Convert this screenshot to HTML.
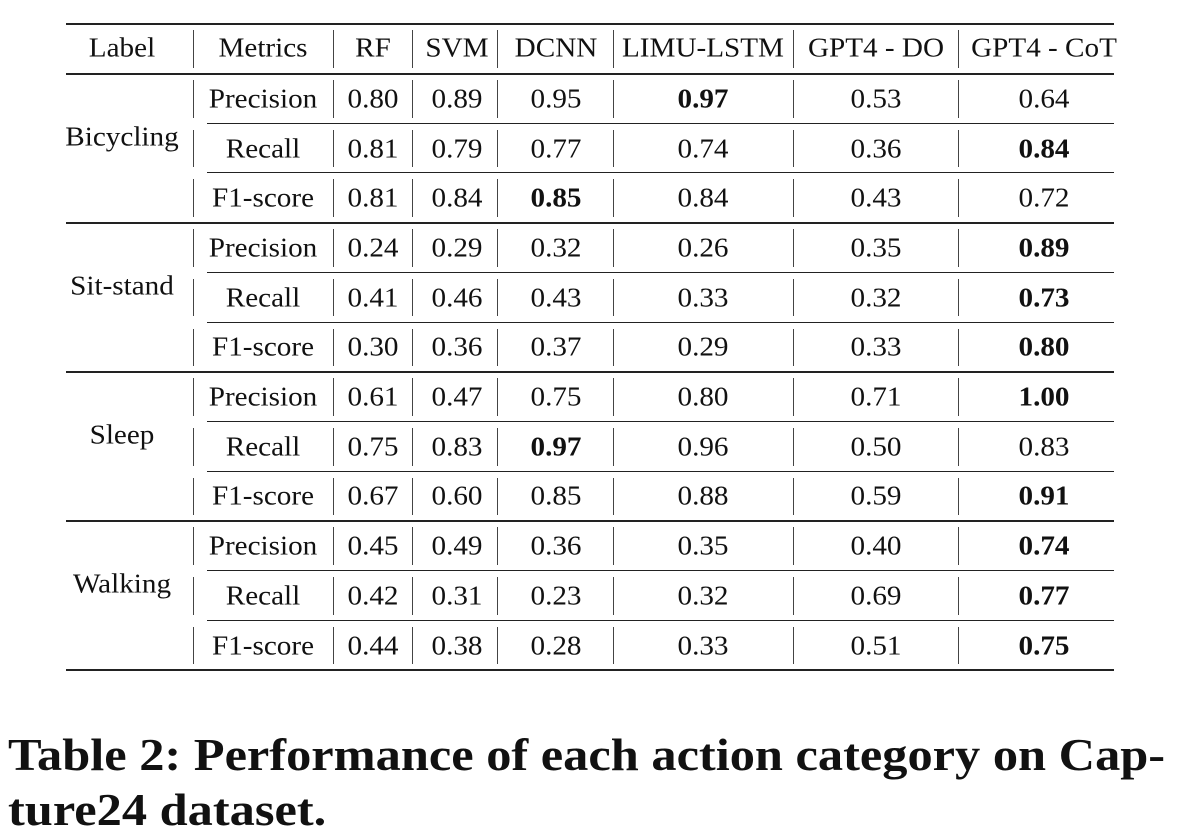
<!DOCTYPE html>
<html><head><meta charset="utf-8">
<style>
body{margin:0;background:#fff;width:1190px;height:838px;position:relative;overflow:hidden;font-family:"Liberation Serif",serif;color:#111}
.t{position:absolute;font-size:27px;transform:translate(-50%,-50%) scaleX(1.08);white-space:nowrap;line-height:1}
.b{font-weight:bold}
.h{position:absolute;background:#222}
.v{position:absolute;width:1.4px;background:#444}
.cap{position:absolute;left:8px;font-size:45px;font-weight:bold;white-space:nowrap;line-height:1;transform-origin:0 0;transform:scaleX(1.12)}
</style></head><body>
<div id="tbl"></div>
<div class="cap" style="top:733px">Table 2: Performance of each action category on Cap-</div>
<div class="cap" style="top:788px">ture24 dataset.</div>
<script>
const headers=["Label","Metrics","RF","SVM","DCNN","LIMU-LSTM","GPT4 - DO","GPT4 - CoT"];
const labels=["Bicycling","Sit-stand","Sleep","Walking"];
const metrics=["Precision","Recall","F1-score"];
const values=[
["0.80","0.89","0.95","0.97","0.53","0.64"],
["0.81","0.79","0.77","0.74","0.36","0.84"],
["0.81","0.84","0.85","0.84","0.43","0.72"],
["0.24","0.29","0.32","0.26","0.35","0.89"],
["0.41","0.46","0.43","0.33","0.32","0.73"],
["0.30","0.36","0.37","0.29","0.33","0.80"],
["0.61","0.47","0.75","0.80","0.71","1.00"],
["0.75","0.83","0.97","0.96","0.50","0.83"],
["0.67","0.60","0.85","0.88","0.59","0.91"],
["0.45","0.49","0.36","0.35","0.40","0.74"],
["0.42","0.31","0.23","0.32","0.69","0.77"],
["0.44","0.38","0.28","0.33","0.51","0.75"]];
const boldCells=[[0,3],[1,5],[2,2],[3,5],[4,5],[5,5],[6,5],[7,2],[8,5],[9,5],[10,5],[11,5]];
const colX=[122,263,373,457,556,703,876,1044];
const sepX=[193,333,412,497,613,793,958];
const root=document.getElementById('tbl');
const rowTop=74, rowH=49.7, headY=48;
function add(cls,style,txt,name){const d=document.createElement('div');d.className=cls;d.style.cssText=style;if(txt!==undefined)d.textContent=txt;


root.appendChild(d);return d;}
function hl(y,x1,x2,th,name){add('h',`left:${x1}px;top:${Math.round(y)}px;width:${x2-x1}px;height:${th}px`,undefined,name);}
hl(23,66,1114,2,'top-rule');hl(73,66,1114,1.5,'header-rule');hl(669,66,1114,2,'bottom-rule');
headers.forEach((h,i)=>add('t',`left:${colX[i]}px;top:${headY}px`,h,'header-'+h.toLowerCase().replace(/[^a-z0-9]+/g,'-')));
function vbars(y0,y1,from){sepX.forEach((x,i)=>{if(i>=from)add('v',`left:${x}px;top:${y0+6}px;height:${y1-y0-12}px`,undefined,'column-separator');});}
vbars(24,74,0);
for(let r=0;r<12;r++){
 const y0=rowTop+r*rowH,yc=y0+rowH/2;
 add('t',`left:${colX[1]}px;top:${yc}px`,metrics[r%3],'metric-'+metrics[r%3].toLowerCase());
 values[r].forEach((v,c)=>{const b=boldCells.some(p=>p[0]===r&&p[1]===c);
  add('t'+(b?' b':''),`left:${colX[c+2]}px;top:${yc}px`,v,'cell-value');});
 vbars(y0,y0+rowH,0);
 if(r<11){ if(r%3===2) hl(y0+rowH-1,66,1114,1.5,'group-rule'); else hl(y0+rowH-1,207,1114,1,'row-rule'); }
}
labels.forEach((l,g)=>add('t',`left:${colX[0]}px;top:${rowTop+(g*3+1.5)*rowH-12}px`,l,'label-'+l.toLowerCase()));
</script>
</body></html>
